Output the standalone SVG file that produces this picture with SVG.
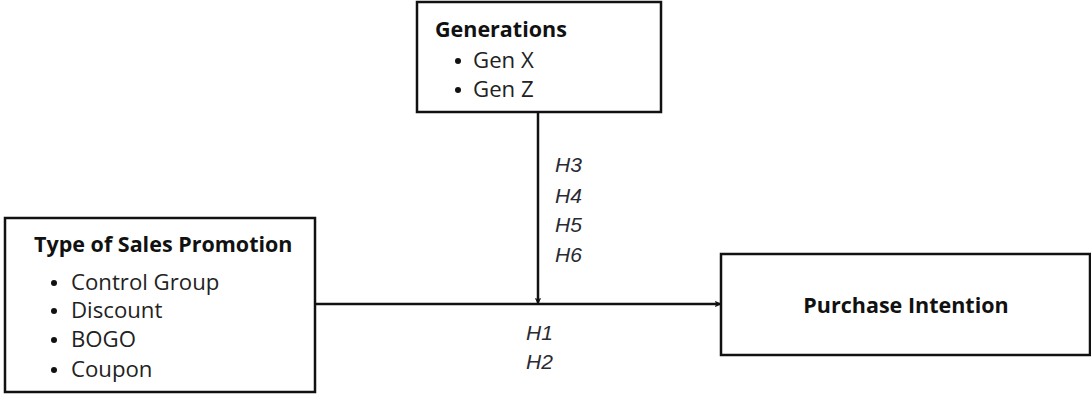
<svg xmlns="http://www.w3.org/2000/svg" width="1091" height="394" viewBox="0 0 1091 394">
  <style>
    .box { fill: #ffffff; stroke: #111111; stroke-width: 2.5; }
    .title { font-family: "Open Sans", "Noto Sans", sans-serif; font-weight: 700; font-size: 21.5px; fill: #111111; }
    .item { font-family: "Open Sans", "Noto Sans", sans-serif; font-size: 22.2px; fill: #222222; }
    .bullet { fill: #111111; }
    .hyp { font-family: "Liberation Sans", Arial, sans-serif; font-style: italic; font-size: 21px; fill: #2a2a33; }
    .link { fill: none; stroke: #111111; stroke-width: 2.5; }
  </style>
  <defs>
    <marker id="arrow" viewBox="0 0 10 10" refX="9" refY="5" markerWidth="6" markerHeight="6" orient="auto" markerUnits="userSpaceOnUse">
      <path d="M1,1 L9,5 L1,9" fill="none" stroke="#111111" stroke-width="2"/>
    </marker>
  </defs>
  <rect width="1091" height="394" fill="#ffffff"/>

  <g id="connectors">
    <line class="link" x1="315" y1="304" x2="720" y2="304" marker-end="url(#arrow)"/>
    <line class="link" x1="538" y1="112" x2="538" y2="303" marker-end="url(#arrow)"/>
    <g class="hyp">
      <text x="555" y="172">H3</text>
      <text x="555" y="203">H4</text>
      <text x="555" y="232">H5</text>
      <text x="555" y="262">H6</text>
      <text x="526" y="340">H1</text>
      <text x="526" y="369">H2</text>
    </g>
  </g>

  <g id="generations">
    <rect class="box" x="417" y="2" width="244" height="110"/>
    <text class="title" x="435" y="37">Generations</text>
    <circle class="bullet" cx="458" cy="61" r="3"/>
    <text class="item" x="473" y="68">Gen X</text>
    <circle class="bullet" cx="458" cy="90" r="3"/>
    <text class="item" x="473" y="97">Gen Z</text>
  </g>

  <g id="sales-promotion">
    <rect class="box" x="5" y="218" width="310" height="174"/>
    <text class="title" x="34" y="252">Type of Sales Promotion</text>
    <circle class="bullet" cx="54" cy="283" r="3"/>
    <text class="item" x="71" y="290">Control Group</text>
    <circle class="bullet" cx="54" cy="311" r="3"/>
    <text class="item" x="71" y="318">Discount</text>
    <circle class="bullet" cx="54" cy="340" r="3"/>
    <text class="item" x="71" y="347">BOGO</text>
    <circle class="bullet" cx="54" cy="370" r="3"/>
    <text class="item" x="71" y="377">Coupon</text>
  </g>

  <g id="purchase-intention">
    <rect class="box" x="721" y="254" width="369" height="101"/>
    <text class="title" x="906" y="313" text-anchor="middle">Purchase Intention</text>
  </g>
</svg>
